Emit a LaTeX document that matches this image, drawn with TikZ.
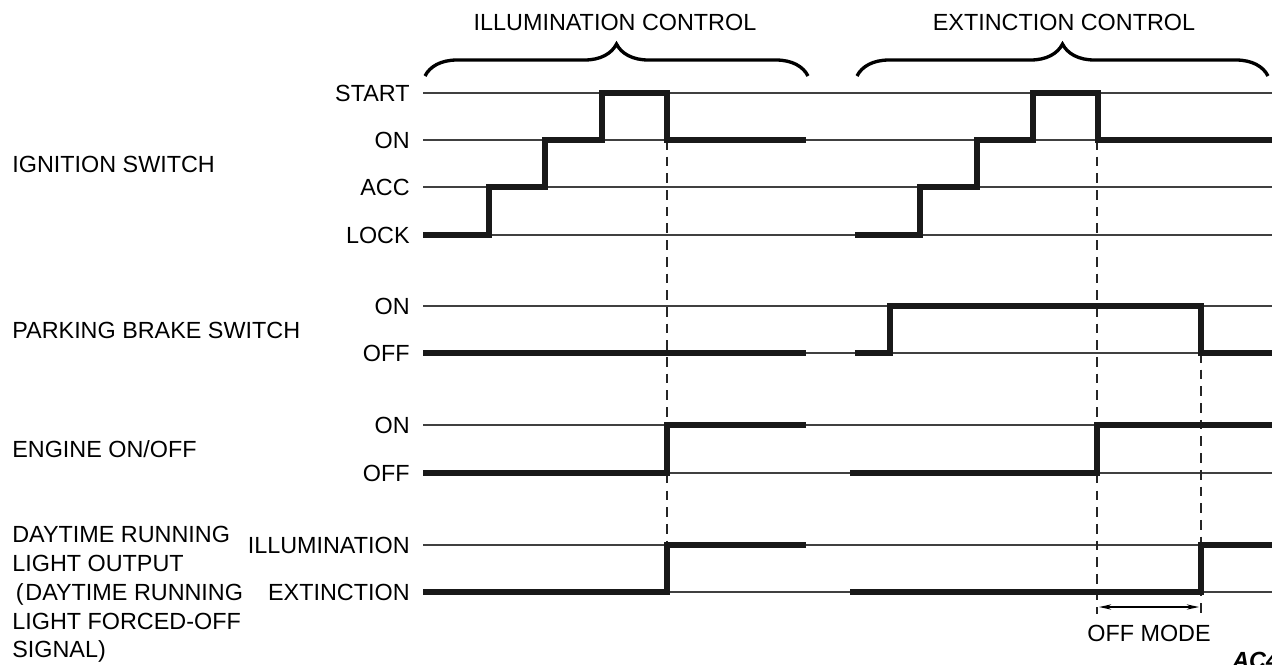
\documentclass[tikz,border=0pt]{standalone}
\usepackage{fontspec}
\setmainfont{Liberation Sans}
\usetikzlibrary{decorations.pathreplacing,arrows.meta}

\begin{document}
\begin{tikzpicture}[x=0.02cm,y=-0.02cm,font=\fontsize{13.3}{15}\selectfont,
    lvl/.style={line width=0.7pt,black!75},
    sig/.style={line width=3.1pt,black!90,line join=miter},
    guide/.style={line width=1pt,black!85,dash pattern=on 5.5pt off 4pt},
    lvltext/.style={anchor=east,inner sep=0pt},
    signame/.style={anchor=west,inner sep=0pt,align=left},
    bracebig/.style={line width=1.9pt,decorate,decoration={brace,amplitude=0.64cm}}]
    \useasboundingbox (0,0) rectangle (1272,664);
    \clip (0,0) rectangle (1272,664);

    % thin level lines
    \foreach \y in {93,140,187,235,306,353,425,473,545,592}
        \draw[lvl] (423,\y) -- (1272,\y);

    % level texts
    \node[lvltext] (start) at (410,93) {START};
    \node[lvltext] (ignon) at (410,140) {ON};
    \node[lvltext] (acc) at (410,187) {ACC};
    \node[lvltext] (lock) at (410,235) {LOCK};
    \node[lvltext] (pbon) at (410,306) {ON};
    \node[lvltext] (pboff) at (410,353) {OFF};
    \node[lvltext] (engon) at (410,425) {ON};
    \node[lvltext] (engoff) at (410,473) {OFF};
    \node[lvltext] (illum) at (410,545) {ILLUMINATION};
    \node[lvltext] (extinc) at (410,592) {EXTINCTION};

    % signal names
    \node[signame] (ign) at (12,164) {IGNITION SWITCH};
    \node[signame] (pbrake) at (12,330) {PARKING BRAKE SWITCH};
    \node[signame] (engine) at (12,449) {ENGINE ON/OFF};
    \node[signame,anchor=north west,font=\fontsize{13.3}{16.4}\selectfont] (drl) at (12,526)
        {DAYTIME RUNNING\\LIGHT OUTPUT\\\hspace{2pt}(\hspace{1pt}DAYTIME RUNNING\\LIGHT FORCED-OFF\\SIGNAL)};

    % braces
    \draw[bracebig] (425,76) -- (808,76);
    \draw[bracebig] (857,76) -- (1268,76);
    \node (illumctl) at (615,22) {ILLUMINATION CONTROL};
    \node (extctl) at (1064,22) {EXTINCTION CONTROL};

    % guides
    \draw[guide] (667,140) -- (667,545);
    \draw[guide] (1097,140) -- (1097,614);
    \draw[guide] (1201,353) -- (1201,614);

    % ignition switch
    \draw[sig] (423,235) -| (489,187) -| (545,140) -| (602,93) -| (667,140) -- (806,140);
    \draw[sig] (855,235) -| (920,187) -| (977,140) -| (1033,93) -| (1098,140) -- (1272,140);

    % parking brake switch
    \draw[sig] (423,353) -- (806,353);
    \draw[sig] (855,353) -| (890,306) -| (1201,353) -- (1272,353);

    % engine
    \draw[sig] (423,473) -| (667,425) -- (806,425);
    \draw[sig] (850,473) -| (1097,425) -- (1272,425);

    % daytime running light
    \draw[sig] (423,592) -| (667,545) -- (806,545);
    \draw[sig] (850,592) -| (1201,545) -- (1272,545);

    % off mode
    \draw[line width=0.8pt,{Stealth[length=7pt,width=3pt]}-{Stealth[length=7pt,width=3pt]}] (1099,607) -- (1199,607);
    \node (offmode) at (1149,633) {OFF MODE};
    \node[anchor=north west,inner sep=0pt,font=\fontsize{13.3}{15}\selectfont\bfseries\itshape] (figid) at (1232,652) {AC4092};
\end{tikzpicture}
\end{document}
